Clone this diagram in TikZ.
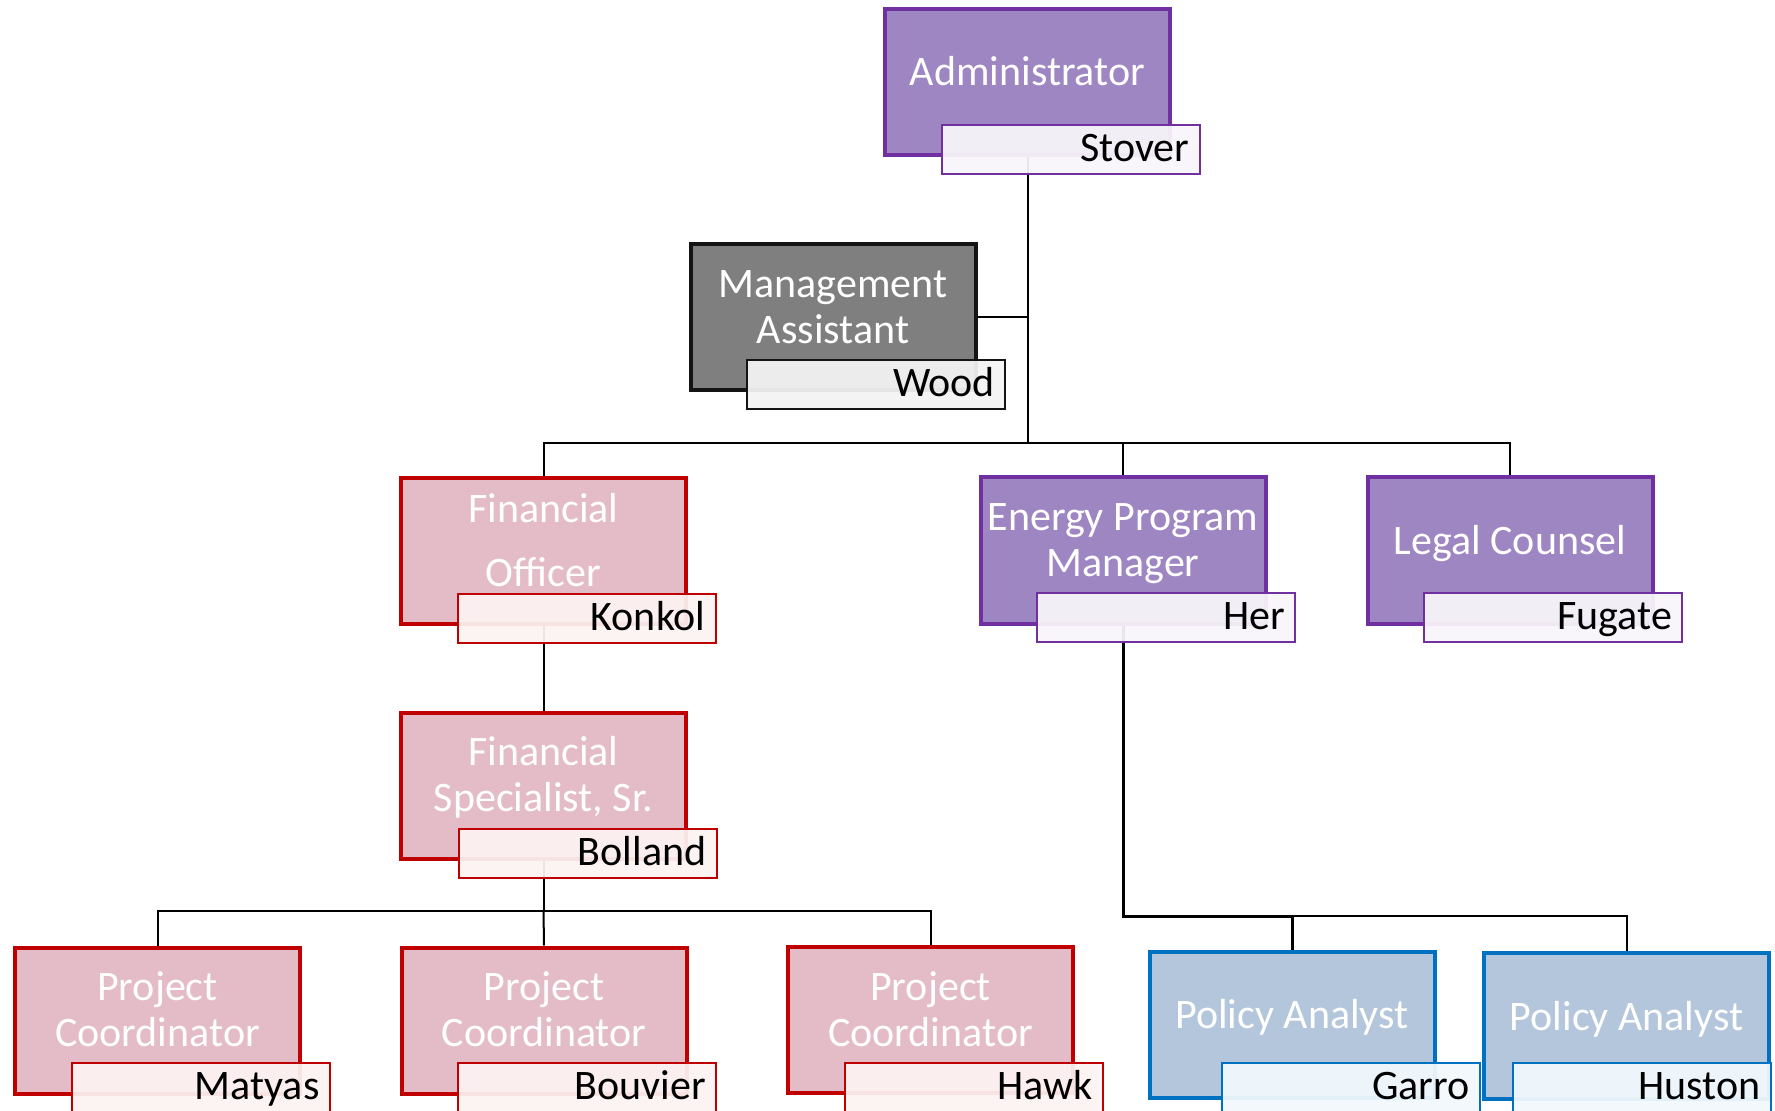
\documentclass[tikz,border=0pt]{standalone}
\usepackage{fontspec}
\setmainfont{Carlito}
\usetikzlibrary{positioning, backgrounds}

\definecolor{purpfill}{RGB}{158,134,194}
\definecolor{purpline}{RGB}{112,48,160}
\definecolor{redfill}{RGB}{228,188,200}
\definecolor{redline}{RGB}{192,0,0}
\definecolor{bluefill}{RGB}{180,198,220}
\definecolor{blueline}{RGB}{0,112,192}
\definecolor{greyfill}{RGB}{127,127,127}
\definecolor{greyline}{RGB}{20,20,20}

\begin{document}
\begin{tikzpicture}[x=0.5pt, y=-0.5pt,
    postbox/.style={draw=#1line, fill=#1fill, line width=2pt, minimum width=142.5pt, minimum height=73pt, inner sep=0pt},
    title/.style={text=white, align=center, font=\fontsize{21}{23}\selectfont},
    namebox/.style={draw=#1line, fill=#1line!5!white, fill opacity=0.94, text opacity=1, line width=1pt, minimum width=129pt, minimum height=24.5pt, text width=119pt, align=right, inner xsep=5pt, inner ysep=0pt, text height=16pt, text depth=4pt, font=\fontsize{21}{23}\selectfont},
    link/.style={line width=1pt}
]
    \useasboundingbox (0,0) rectangle (1775,1111);

    % Boxes
    \node[postbox=purp] (adm) at (1027.5,82.5) {};
    \node[postbox=grey] (mgmt) at (833,317.5) {};
    \node[postbox=red] (fo) at (543.5,551) {};
    \node[postbox=purp] (epm) at (1123,550.5) {};
    \node[postbox=purp] (lc) at (1510,550.5) {};
    \node[postbox=red] (fss) at (543.5,786) {};
    \node[postbox=red] (pc1) at (157.5,1020.5) {};
    \node[postbox=red] (pc2) at (544,1020.5) {};
    \node[postbox=red] (pc3) at (930.5,1020) {};
    \node[postbox=blue] (pa1) at (1292,1024.5) {};
    \node[postbox=blue] (pa2) at (1626.5,1026) {};

    % Titles
    \node[title] (admt) at ([shift={(0,-11)}]adm.center) {Administrator};
    \node[title] (mgmtt) at ([shift={(0,-10)}]mgmt.center) {Management\\Assistant};
    \node[title] (fot) at ([shift={(0,-11)}]fo.center) {Financial\\[9pt]Officer};
    \node[title] (epmt) at ([shift={(0,-7)}]epm.center) {Energy Program\\Manager};
    \node[title] (lct) at ([shift={(0,-7)}]lc.center) {Legal Counsel};
    \node[title] (fsst) at ([shift={(0,-9)}]fss.center) {Financial\\Specialist, Sr.};
    \node[title] (pc1t) at ([shift={(0,-11)}]pc1.center) {Project\\Coordinator};
    \node[title] (pc2t) at ([shift={(0,-11)}]pc2.center) {Project\\Coordinator};
    \node[title] (pc3t) at ([shift={(0,-11)}]pc3.center) {Project\\Coordinator};
    \node[title] (pa1t) at ([shift={(0,-7)}]pa1.center) {Policy Analyst};
    \node[title] (pa2t) at ([shift={(0,-7)}]pa2.center) {Policy Analyst};

    % Names
    \node[namebox=purp] (admn) at ([shift={(43,67)}]adm.center) {Stover};
    \node[namebox=grey] (mgmtn) at ([shift={(43,67)}]mgmt.center) {Wood};
    \node[namebox=red] (fon) at ([shift={(43,67)}]fo.center) {Konkol};
    \node[namebox=purp] (epmn) at ([shift={(43,67)}]epm.center) {Her};
    \node[namebox=purp] (lcn) at ([shift={(43,67)}]lc.center) {Fugate};
    \node[namebox=red] (fssn) at ([shift={(44,67.5)}]fss.center) {Bolland};
    \node[namebox=red] (pc1n) at ([shift={(43,67)}]pc1.center) {Matyas};
    \node[namebox=red] (pc2n) at ([shift={(43,67)}]pc2.center) {Bouvier};
    \node[namebox=red] (pc3n) at ([shift={(43,67)}]pc3.center) {Hawk};
    \node[namebox=blue] (pa1n) at ([shift={(58.5,63)}]pa1.center) {Garro};
    \node[namebox=blue] (pa2n) at ([shift={(15,61.5)}]pa2.center) {Huston};

    % Connectors
    \begin{pgfonlayer}{background}
        \coordinate (busA) at (1027.5,443);
        \coordinate (busB) at (543.5,911);
        \coordinate (busC) at (1123,916);
        \draw[link] (adm.south) -- (busA);
        \draw[link] (mgmt.east) -- (mgmt.east -| busA);
        \draw[link] (fo.north) |- (busA);
        \draw[link] (lc.north) |- (busA);
        \draw[link] (epm.north) -- (epm.north |- busA);
        \draw[link] (fo.south) -- (fss.north);
        \draw[link] (fss.south) -- (busB);
        \draw[link] (pc1.north) |- (busB);
        \draw[link] (pc3.north) |- (busB);
        \draw[link] (pc2.north) -- (busB);
        \draw[link, line width=1.5pt] (epm.south) -- (busC) -| (pa1.north);
        \draw[link] (busC) -| (pa2.north);
    \end{pgfonlayer}

\end{tikzpicture}
\end{document}
